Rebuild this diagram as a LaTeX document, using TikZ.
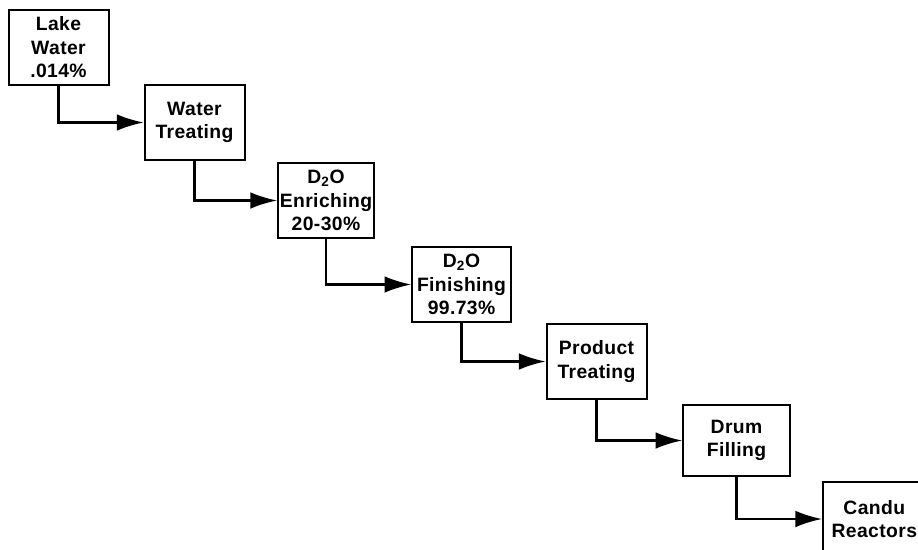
\documentclass[tikz,border=0pt]{standalone}
\usepackage{fontspec}
\setmainfont{Liberation Sans}
\usepackage{tikz}
\usetikzlibrary{arrows.meta}
\tikzstyle{sheet} = [x = 0.75pt, y = -0.75pt]
\tikzstyle{stepBox} = [draw, line width=1.5pt, fill=white, align=center, inner sep=0pt,
  minimum width=75pt, minimum height=56pt,
  font={\fontsize{14.5}{17.6}\selectfont\bfseries\addfontfeature{LetterSpace=2}}]
\tikzstyle{flowLine} = [line width=1.6pt, -{Latex[length=20pt, width=12.5pt]}]
\newcommand{\dtwoo}{D\textsubscript{2}O}

\begin{document}
\begin{tikzpicture}[sheet]
  \useasboundingbox (0,0) rectangle (918,550);
  \clip (0,0) rectangle (918,550);
  \node [stepBox] (lake) at (58.5,47.5) {Lake\\Water\\.014\%};
  \node [stepBox] (wtreat) at (194.5,122.5) {Water\\Treating};
  \node [stepBox, minimum width=72pt] (enrich) at (326,200.5) {\dtwoo\\Enriching\\20-30\%};
  \node [stepBox, minimum width=74pt] (finish) at (461.5,284.5) {\dtwoo\\Finishing\\99.73\%};
  \node [stepBox] (ptreat) at (596.5,361.5) {Product\\Treating};
  \node [stepBox, minimum width=80pt, minimum height=53pt] (drum) at (736.5,440.5) {Drum\\Filling};
  \node [stepBox, anchor=north west, text width=72pt, inner xsep=2.5pt, minimum height=55.5pt] (candu) at (822,481) {Candu\\Reactors};

  \draw [flowLine] (lake.south) |- (wtreat.west);
  \draw [flowLine] (wtreat.south) |- (enrich.west);
  \draw [flowLine] (enrich.south) |- (finish.west);
  \draw [flowLine] (finish.south) |- (ptreat.west);
  \draw [flowLine] (ptreat.south) |- (drum.west);
  \draw [flowLine] (drum.south) |- (candu.west);
\end{tikzpicture}
\end{document}
